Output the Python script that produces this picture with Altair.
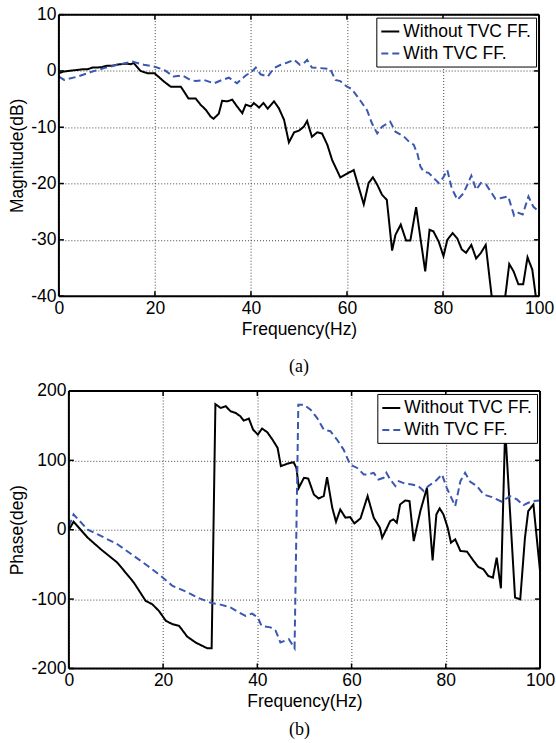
import altair as alt
import pandas as pd

# Series names, colours and dash patterns
SERIES = ["Without TVC FF.", "With TVC FF."]
COLORS = ["#000000", "#3a58b0"]
DASHES = [[1, 0], [7, 4]]

FREQ_RANGE = [0, 100]
FREQ_TICKS = [0, 20, 40, 60, 80, 100]
MAG_RANGE = [-40, 10]
MAG_TICKS = [-40, -30, -20, -10, 0, 10]
PHASE_RANGE = [-200, 200]
PHASE_TICKS = [-200, -100, 0, 100, 200]

# (a) magnitude, without TVC feed-forward
mag_without_f = [0, 1, 2, 3, 4, 5, 6, 7, 8, 9, 10, 11, 12, 13, 14, 15, 15.6,
                 17, 18.4, 19.9, 21.9, 23.3, 25.4, 27.0, 28.5, 29.5, 30.6,
                 31.6, 32.2, 33.3, 34.0, 35.1, 36.1, 37.1, 38.2, 38.9, 40.0,
                 40.6, 41.7, 42.6, 43.5, 44.8, 45.8, 46.9, 47.9, 49.0, 50.0,
                 51.0, 51.7, 52.7, 53.8, 54.8, 55.9, 56.9, 58.6, 61.4, 63.5,
                 64.5, 65.4, 66.3, 67.3, 68.3, 69.4, 70.1, 71.2, 72.3, 73.2,
                 74.4, 75.3, 76.3, 77.2, 78.0, 79.1, 80.1, 80.9, 82.0, 83.0,
                 83.9, 84.8, 85.9, 86.9, 87.9, 88.9, 90.2, 91.0, 92.0, 92.9,
                 93.8, 94.7, 95.7, 96.7, 97.6, 98.6, 99.4, 100]
mag_without = [-0.4, -0.1, 0.0, 0.1, 0.2, 0.3, 0.3, 0.6, 0.6, 0.7, 0.9, 0.9, 1.1, 1.2, 1.3, 1.2, 1.4,
               0.0, -0.4, -0.4, -1.9, -2.8, -2.8, -4.9, -4.9, -6.0, -6.9,
               -8.1, -8.5, -7.6, -5.3, -5.4, -5.1, -6.3, -7.5, -6.0, -6.3,
               -5.7, -6.5, -5.7, -6.7, -5.4, -6.6, -8.7, -12.7, -10.9, -10.6,
               -9.9, -8.9, -11.7, -10.9, -11.1, -13.1, -15.8, -18.9, -17.6, -23.7,
               -19.9, -18.9, -20.2, -22.0, -22.9, -31.9, -29.1, -27.3, -30.1, -30.1,
               -24.2, -29.7, -35.6, -28.2, -28.5, -30.3, -32.9, -30.0, -28.8, -29.8,
               -31.7, -32.3, -30.9, -33.3, -32.3, -30.9, -40.5, -45.0, -46.0, -40.5,
               -34.3, -35.6, -37.9, -37.9, -33.1, -35.3, -40.5, -44.0]

# (a) magnitude, with TVC feed-forward
mag_with_f = [0, 1.1, 3.9, 6.65, 9.4, 12.2, 15.3, 17.7, 19.8, 21.9,
              23.9, 25.7, 27.4, 28.5, 30.2, 32.3, 34.0, 35.4, 37.1, 38.9,
              40.1, 41.0, 42.0, 43.5, 44.8, 46.2, 47.6, 49.0, 50.2, 51.0,
              51.7, 52.7, 54.5, 56.5, 57.6, 58.6, 60.0, 61.0, 62.8, 64.2,
              65.2, 66.3, 67.3, 69.0, 70.1, 71.8, 73.2, 73.9, 74.7, 75.3,
              76.0, 77.0, 79.1, 80.0, 80.9, 81.8, 83.0, 84.3, 85.9, 86.9,
              87.9, 89.0, 90.9, 91.9, 93.6, 94.8, 95.7, 96.6, 97.8, 98.8,
              100]
mag_with = [-1.0, -1.6, -1.0, -0.2, 0.5, 1.1, 1.65, 1.1, 0.8, 0.2,
            -1.0, -0.8, -1.6, -1.8, -1.6, -2.2, -1.6, -1.2, -2.2, -0.8,
            -0.2, 0.6, -0.6, -1.0, 0.5, 1.1, 1.5, 2.0, 1.1, 1.35,
            1.95, 0.6, 0.5, 0.35, -1.6, -1.8, -2.8, -3.2, -5.3, -7.0,
            -9.3, -11.1, -9.9, -9.0, -10.8, -11.6, -12.8, -13.1, -14.8, -17.0,
            -17.9, -18.1, -19.9, -19.0, -17.6, -20.8, -22.9, -21.7, -18.6, -21.1,
            -19.9, -20.2, -22.7, -22.6, -22.3, -25.7, -25.2, -25.5, -22.3, -24.1,
            -25.0]

# (b) phase, without TVC feed-forward
phase_without_f = [0, 1.0, 2.5, 4.0, 6.8, 10.3, 13.8, 16.3, 17.7, 19.1,
                   20.6, 22.0, 23.4, 25.1, 26.9, 28.3, 29.4, 30.3, 31.1, 32.2,
                   33.3, 34.3, 35.4, 36.4, 37.1, 38.2, 39.1, 40.1, 41.0, 42.1,
                   43.2, 44.3, 45.0, 46.3, 47.7, 48.3, 48.8, 49.9, 50.8, 52.0,
                   53.0, 54.1, 54.8, 55.9, 56.7, 57.6, 58.7, 59.7, 60.6, 61.9,
                   63.4, 64.7, 66.0, 66.5, 67.2, 68.2, 68.9, 69.6, 70.3, 71.4,
                   72.3, 73.2, 74.6, 76.0, 77.2, 78.0, 78.7, 79.5, 80.4, 81.1,
                   82.0, 83.1, 84.5, 85.9, 86.9, 88.0, 89.0, 90.0, 90.8, 91.7,
                   92.6, 94.7, 95.8, 96.8, 97.5, 98.6, 100]
phase_without = [0, 11.5, 0, -11.5, -28.3, -47.5, -76.3, -102.6, -107.4, -117.0,
                 -131.4, -136.2, -138.6, -154, -162.6, -167.3, -171, -171, 181, 175.5,
                 178, 170.8, 168.3, 163.6, 157.3, 160.1, 144.3, 137.1, 145.8, 140.6,
                 130, 118, 91.6, 95, 97.3, 89, 60.4, 74.8, 73.8, 50.8,
                 45, 48.5, 75.8, 31.7, 11.5, 29.2, 17.3, 18.2, 9.1, 16.3,
                 48.5, 17.3, 3, -11.5, -1.9, 12.5, 14.8, 10.1, 36.4, 42.2,
                 41.2, -16.3, 26.9, 60.4, -44.1, 22, 30.7, 22, 3, -18.7,
                 -13.9, -30.6, -31.6, -45, -53.7, -57.1, -66.6, -69, -40.3, -84.5,
                 146, -97.8, -100.3, -11.5, 26.9, 36.4, -59.5]

# (b) phase, with TVC feed-forward
phase_with_f = [0, 1.0, 4.0, 6.8, 10.3, 13.8, 16.7, 19.5, 22.0, 25.1,
                27.3, 30.4, 32.2, 34.3, 36.1, 37.5, 38.9, 40.1, 40.9, 42.8,
                43.9, 44.9, 46.7, 47.9, 48.7, 49.9, 51.3, 52.7, 54.1,
                55.5, 56.9, 58.3, 59.7, 61.2, 62.6, 63.3, 64.7, 65.7, 66.8,
                67.4, 68.2, 69.3, 70.0, 71.4, 72.8, 74.2, 75.3, 76.3, 77.8,
                79.2, 80.2, 82.0, 83.1, 84.1, 85.2, 86.6, 88.0, 89.8, 91.9,
                93.6, 95.1, 96.5, 97.5, 98.6, 100]
phase_with = [5, 22, 0, -9, -21, -37.8, -52, -66.6, -81, -90,
              -98, -106, -108, -112, -119.4, -124.2, -120.9, -126.6, -138.6, -140.7,
              -145.7, -162.6, -157.8, -170.8, 180.3, 180.3, 173, 161, 144.3,
              142, 130, 115.5, 94, 89, 79.6, 79.6, 82, 72.4, 74.8,
              82, 72.4, 62.9, 70, 66.2, 65.2, 62.9, 55.7, 62.9, 70,
              79.6, 60.4, 34.1, 70, 82, 69, 62.9, 50.8, 47, 40.3,
              48.5, 43.6, 35.5, 38.8, 41.2, 42.2]

FONT = "Liberation Sans"
PLAIN_LABEL = "'' + datum.value"   # keeps an ASCII hyphen for negative ticks


def long_frame(parts):
    rows = []
    for name, freqs, vals in parts:
        assert len(freqs) == len(vals), name
        for i, (f, v) in enumerate(zip(freqs, vals)):
            rows.append({"series": name, "freq": f, "value": v, "idx": i})
    return pd.DataFrame(rows)


def panel(frame, y_range, y_ticks, y_title, box_w, height, caption,
          shift=0, caption_gap=20):
    """One Bode panel; `shift` moves the box right inside its cell."""
    width = box_w + shift
    legend = alt.Legend(
        title=None, orient="top-right", offset=3, padding=4,
        strokeColor="black", fillColor="white", cornerRadius=0,
        symbolType="stroke", symbolSize=324, symbolStrokeWidth=2,
        labelFont=FONT, labelFontSize=17.5, labelColor="black",
        labelLimit=400, labelOffset=3, rowPadding=3,
    )
    x_axis = alt.Axis(values=FREQ_TICKS, title="Frequency(Hz)", labelExpr=PLAIN_LABEL,
                      titleX=shift + box_w / 2)
    y_axis = alt.Axis(values=y_ticks, title=y_title, labelExpr=PLAIN_LABEL, offset=-shift)
    x_scale = alt.Scale(domain=FREQ_RANGE, range=[shift, width], nice=False, zero=False)
    y_scale = alt.Scale(domain=y_range, nice=False, zero=False)

    x_enc = alt.X("freq:Q", scale=x_scale, axis=x_axis)
    y_enc = alt.Y("value:Q", scale=y_scale, axis=y_axis)

    curves = alt.Chart(frame).mark_line(strokeWidth=2, clip=True).encode(
        x=x_enc,
        y=y_enc,
        color=alt.Color("series:N", scale=alt.Scale(domain=SERIES, range=COLORS),
                        legend=legend),
        strokeDash=alt.StrokeDash("series:N", scale=alt.Scale(domain=SERIES, range=DASHES),
                                  legend=legend),
        order="idx:Q",
    )

    # box outline, drawn through the scales at the axis limits
    edges = pd.DataFrame({
        "freq":   [FREQ_RANGE[0], FREQ_RANGE[1], FREQ_RANGE[0], FREQ_RANGE[0]],
        "freq2":  [FREQ_RANGE[0], FREQ_RANGE[1], FREQ_RANGE[1], FREQ_RANGE[1]],
        "value":  [y_range[0], y_range[0], y_range[0], y_range[1]],
        "value2": [y_range[1], y_range[1], y_range[0], y_range[1]],
    })
    box = alt.Chart(edges).mark_rule(color="black", strokeWidth=2).encode(
        x=x_enc, x2="freq2:Q", y=y_enc, y2="value2:Q")

    # inward tick marks on all four sides of the box
    xt = pd.DataFrame({"freq": FREQ_TICKS})
    yt = pd.DataFrame({"value": y_ticks})
    tick = dict(color="black", strokeWidth=1.5)
    bottom_ticks = alt.Chart(xt).mark_rule(**tick).encode(
        x=x_enc, y=alt.value(height), y2=alt.value(height - 5))
    top_ticks = alt.Chart(xt).mark_rule(**tick).encode(
        x=x_enc, y=alt.value(0), y2=alt.value(5))
    left_ticks = alt.Chart(yt).mark_rule(**tick).encode(
        y=y_enc, x=alt.value(shift), x2=alt.value(shift + 5))
    right_ticks = alt.Chart(yt).mark_rule(**tick).encode(
        y=y_enc, x=alt.value(width), x2=alt.value(width - 5))

    return alt.layer(bottom_ticks, top_ticks, left_ticks, right_ticks, curves, box).properties(
        width=width, height=height,
        title=alt.TitleParams(caption, orient="bottom", anchor="middle", frame="group",
                              font="Liberation Serif", fontSize=18, fontWeight="normal",
                              color="black", offset=caption_gap),
    )


mag_df = long_frame([(SERIES[0], mag_without_f, mag_without),
                     (SERIES[1], mag_with_f, mag_with)])
phase_df = long_frame([(SERIES[0], phase_without_f, phase_without),
                       (SERIES[1], phase_with_f, phase_with)])

top = panel(mag_df, MAG_RANGE, MAG_TICKS, "Magnitude(dB)", 481, 282, "(a)")
bottom = panel(phase_df, PHASE_RANGE, PHASE_TICKS, "Phase(deg)", 472, 278, "(b)",
               shift=10, caption_gap=11)

chart = alt.vconcat(top, bottom, spacing=6).resolve_scale(
    color="independent", strokeDash="independent"
).properties(
    padding={"left": 8, "top": 5, "right": 1, "bottom": 2},
    background="white",
).configure_view(
    strokeWidth=0
).configure_axis(
    labelFont=FONT, labelFontSize=17.5, labelColor="black",
    titleFont=FONT, titleFontSize=17.5, titleFontWeight="normal", titleColor="black",
    ticks=False, domain=False, grid=True, gridColor="#444", gridDash=[1, 2],
    gridOpacity=1, gridWidth=1, labelPadding=3, titlePadding=4,
    labelFlush=False, labelBound=False,
)

chart.save("out.html", embed_options={"renderer": "svg", "actions": False})
